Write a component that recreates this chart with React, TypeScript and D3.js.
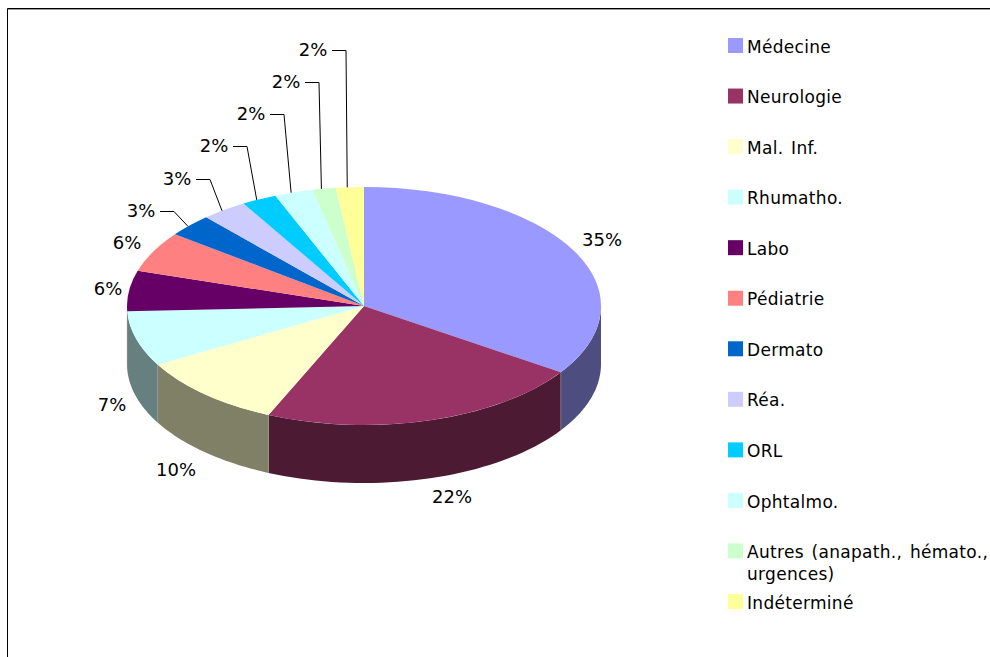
import * as d3 from 'd3';

const categories = ['Médecine', 'Neurologie', 'Mal. Inf.', 'Rhumatho.', 'Labo', 'Pédiatrie', 'Dermato', 'Réa.', 'ORL', 'Ophtalmo.', 'Autres (anapath., hémato.,|urgences)', 'Indéterminé'];
// slice sizes as they appear in the picture, the printed labels differ a little
const shares = [34.4, 22.2, 10.2, 7.5, 5.5, 5.5, 3.1, 3.1, 2.4, 2.6, 1.6, 1.9];
const percentLabels = ['35%', '22%', '10%', '7%', '6%', '6%', '3%', '3%', '2%', '2%', '2%', '2%'];
const colors = ['#9999ff', '#993366', '#ffffcc', '#ccffff', '#660066', '#ff8080', '#0066cc', '#ccccff', '#00ccff', '#ccffff', '#ccffcc', '#ffff99'];

// label centres, same order as categories
const labelX = [602, 452, 176, 112, 108, 127, 141, 177, 214, 251, 286, 313];
const labelY = [240, 497, 470, 405, 289, 243, 211, 179, 146, 114, 82, 50];
const hasLeader = [false, false, false, false, false, false, true, true, true, true, true, true];

const cx = 364;
const cy = 306;
const rx = 237;
const ry = 119;
const depth = 58;
const leaderBias = 0.011;
const font = '"DejaVu Sans", Verdana, sans-serif';

const onEllipse = (a: number): [number, number] => [cx + rx * Math.sin(a), cy - ry * Math.cos(a)];

// side walls are the slice colour at half brightness
const shade = (c: string) => {
  const { r, g, b } = d3.rgb(c);
  return d3.rgb(r / 2, g / 2, b / 2).formatHex();
};

export default function App() {
  const slices = d3.pie<number>().sort(null)(shares);
  const top = d3.arc<d3.PieArcDatum<number>>().innerRadius(0).outerRadius(100);

  const wallArea = d3
    .area<number>()
    .x(a => onEllipse(a)[0])
    .y0(a => onEllipse(a)[1])
    .y1(a => onEllipse(a)[1] + depth);

  // only the front half of the rim is visible
  const walls = slices
    .map((s, i) => {
      const from = Math.max(s.startAngle, Math.PI / 2);
      const to = Math.min(s.endAngle, (Math.PI * 3) / 2);
      if (to <= from) return null;
      return { i, from, to, angles: d3.range(41).map(k => from + ((to - from) * k) / 40) };
    })
    .filter(Boolean) as { i: number; from: number; to: number; angles: number[] }[];

  const legendY = d3
    .scalePoint<string>()
    .domain(categories)
    .range([45.5, 601.5]);

  const leader = d3.line();

  return (
    <svg width={990} height={657} style={{ position: 'absolute', left: 0, top: 0, background: '#fff' }} fontFamily={font}>
      <path d="M7.5 657V8.5H990" fill="none" stroke="#000" strokeWidth={1} />
      <path d="M8 9.5H990" fill="none" stroke="#999" strokeWidth={1} />

      {walls.map(w => (
        <path key={w.i} d={wallArea(w.angles) ?? ''} fill={shade(colors[w.i])} />
      ))}
      {walls.slice(1).map(w => (
        <line
          key={w.i}
          x1={onEllipse(w.from)[0]}
          x2={onEllipse(w.from)[0]}
          y1={onEllipse(w.from)[1]}
          y2={onEllipse(w.from)[1] + depth}
          stroke="#a0a0a0"
          strokeOpacity={0.5}
        />
      ))}

      <g transform={`translate(${cx},${cy}) scale(${rx / 100},${ry / 100})`}>
        {slices.map((s, i) => (
          <path key={i} d={top(s) ?? ''} fill={colors[i]} />
        ))}
      </g>

      {slices.map((s, i) => {
        if (!hasLeader[i]) return null;
        const end = onEllipse((s.startAngle + s.endAngle) / 2 - leaderBias);
        const x = labelX[i] + 19;
        const y = labelY[i] + 0.5;
        return <path key={i} d={leader([[x, y], [x + 14, y], end]) ?? ''} fill="none" stroke="#000" strokeWidth={1} />;
      })}

      {percentLabels.map((t, i) => (
        <text key={i} x={labelX[i]} y={labelY[i]} dy="0.36em" textAnchor="middle" fontSize={18} fill="#000">
          {t}
        </text>
      ))}

      {categories.map((c, i) => {
        const y = legendY(c)!;
        const lines = c.split('|');
        return (
          <g key={c}>
            <rect x={728} y={y - 7.5} width={15} height={15} fill={colors[i]} />
            {lines.map((t, k) => (
              <text key={k} x={747} y={y + 1 + k * 22} dy="0.36em" fontSize={17} letterSpacing={0.3} wordSpacing={2} fill="#000">
                {t}
              </text>
            ))}
          </g>
        );
      })}
    </svg>
  );
}
